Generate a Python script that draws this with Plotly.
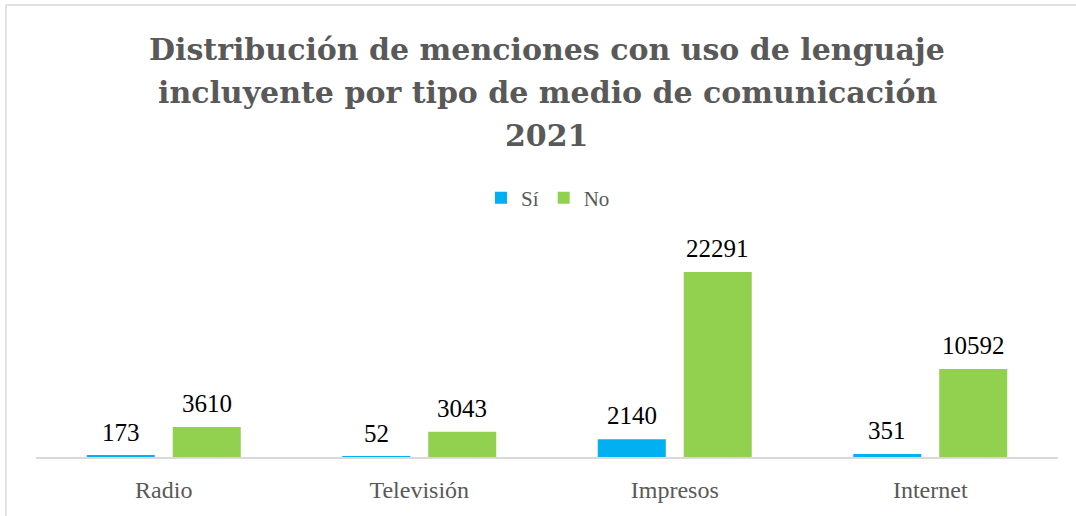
import plotly.graph_objects as go

categories = ["Radio", "Televisión", "Impresos", "Internet"]
si_values = [173, 52, 2140, 351]
no_values = [3610, 3043, 22291, 10592]
series_names = ["Sí", "No"]
title_lines = ["Distribución de menciones con uso de lenguaje",
               "incluyente por tipo de medio de comunicación",
               "2021"]

W, H = 1076, 516
ml, mt = 6, 5
pw, ph = W - ml, H - mt

def px_x(x):
    return (x - ml) / pw

def px_y(y):
    return (H - y) / ph

FONT = "Liberation Serif"
TFONT = "DejaVu Serif"
GREY = "#595959"

fig = go.Figure()
fig.add_trace(go.Bar(x=categories, y=si_values, name=series_names[0],
                     marker=dict(color="#00B0F0", line=dict(width=0))))
fig.add_trace(go.Bar(x=categories, y=no_values, name=series_names[1],
                     marker=dict(color="#92D050", line=dict(width=0))))

xd = [px_x(36), px_x(1058)]
yd = [px_y(457), px_y(230)]

annotations = []
for i, line in enumerate(title_lines):
    annotations.append(dict(
        text="<b>" + line + "</b>", xref="paper", yref="paper",
        x=(xd[0] + xd[1]) / 2, y=px_y(60 + 43 * i), xanchor="center", yanchor="bottom",
        yshift=-9, showarrow=False, font=dict(family=TFONT, size=30, color=GREY),
    ))
for vals, shift in ((si_values, -43), (no_values, 43)):
    for c, v in zip(categories, vals):
        annotations.append(dict(
            text=str(v), x=c, y=v, xref="x", yref="y", xshift=shift, yshift=8,
            xanchor="center", yanchor="bottom", showarrow=False,
            font=dict(family=FONT, size=25, color="#000000"),
        ))

fig.update_layout(
    width=W, height=H,
    margin=dict(l=ml, r=0, t=mt, b=0),
    paper_bgcolor="white", plot_bgcolor="white",
    barmode="group", bargap=0.327, bargroupgap=0.209,
    font=dict(family=FONT, color=GREY),
    showlegend=True,
    legend=dict(orientation="h", xanchor="center", yanchor="middle",
                x=px_x(548), y=px_y(198), font=dict(size=21, color=GREY),
                itemwidth=30, traceorder="normal", tracegroupgap=0),
    xaxis=dict(domain=xd, showline=True, linecolor="#d9d9d9", linewidth=1.5,
               ticks="", showgrid=False, tickfont=dict(size=24, color=GREY),
               zeroline=False, ticklabelstandoff=10),
    yaxis=dict(domain=yd, range=[0, 27350], visible=False, showgrid=False),
    annotations=annotations,
    shapes=[
        dict(type="line", xref="paper", yref="paper", x0=0, x1=1, y0=1, y1=1,
             line=dict(color="#d9d9d9", width=1.5)),
        dict(type="line", xref="paper", yref="paper", x0=0, x1=0, y0=0, y1=1,
             line=dict(color="#d9d9d9", width=1.5)),
    ],
)

fig.write_html("out.html", config={"displayModeBar": False},
               post_script="document.body.style.margin='0px';document.body.style.padding='0px';")
